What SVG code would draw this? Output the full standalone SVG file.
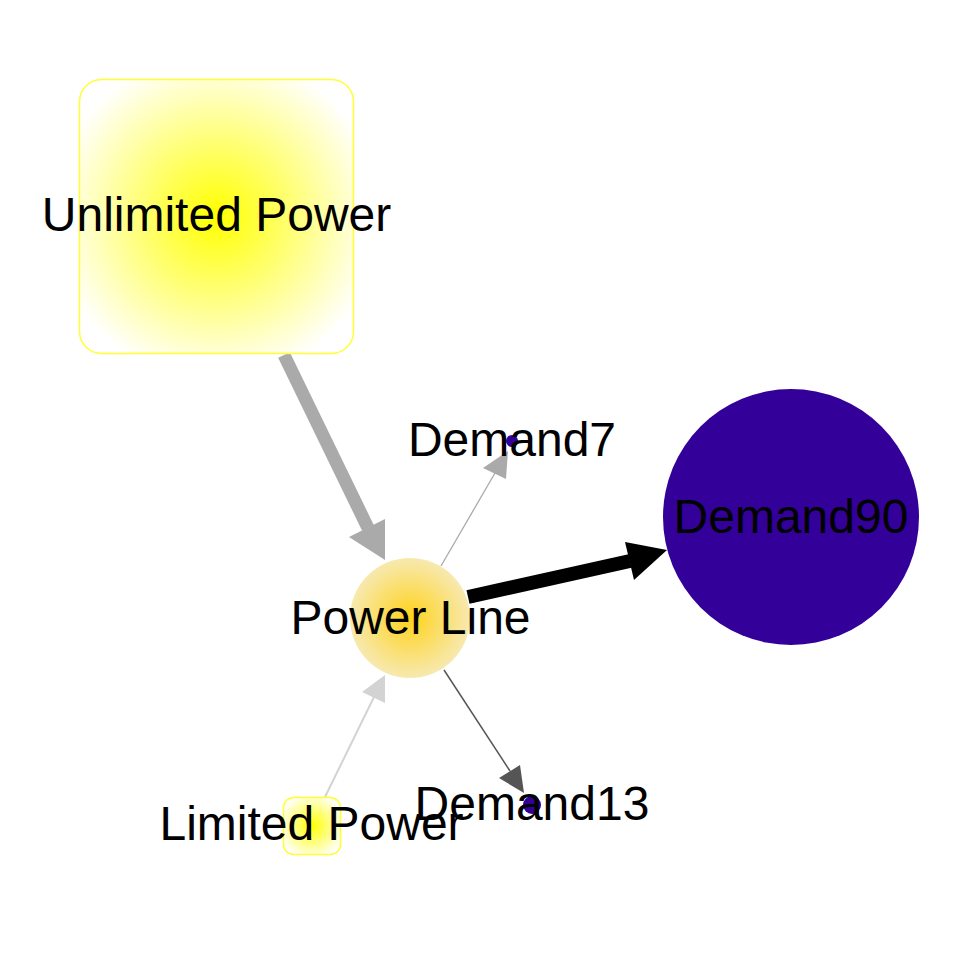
<svg xmlns="http://www.w3.org/2000/svg" width="960" height="966" viewBox="0 0 960 966">
<style>
.lbl{font-family:"Liberation Sans",Arial,sans-serif;font-size:48px;fill:#000;text-anchor:middle}
.src{stroke:#ffff33;stroke-width:1.5}
.dem{fill:#330099}
</style>
<defs>
<radialGradient id="gy" cx="0.5" cy="0.5" r="0.6">
<stop offset="0" stop-color="#ffff00"/>
<stop offset="1" stop-color="#ffffff"/>
</radialGradient>
<radialGradient id="gold" cx="0.5" cy="0.5" r="0.5">
<stop offset="0" stop-color="#ffd21a"/>
<stop offset="1" stop-color="#f7e9b0"/>
</radialGradient>
</defs>
<rect width="960" height="966" fill="#fff"/>
<g id="connectors">
<line x1="284" y1="355" x2="368" y2="528" stroke="#aaaaaa" stroke-width="13"/>
<polygon points="385,560 349,537 385,519" fill="#aaaaaa"/>
<line x1="441" y1="566" x2="495" y2="473" stroke="#aaaaaa" stroke-width="1.3"/>
<polygon points="508,451 483,468 506,479" fill="#aaaaaa"/>
<line x1="468" y1="597" x2="630" y2="561" stroke="#000" stroke-width="14"/>
<polygon points="667,550 625,542 634,580" fill="#000"/>
<line x1="444" y1="670" x2="510" y2="771" stroke="#555555" stroke-width="1.5"/>
<polygon points="524,793 499,778 520,765" fill="#555555"/>
<line x1="325" y1="797" x2="374" y2="697" stroke="#d3d3d3" stroke-width="2"/>
<polygon points="385,675 362,692 385,703" fill="#d3d3d3"/>
</g>
<g id="unlimited-power">
<rect class="src" x="79.5" y="79.5" width="274" height="274" rx="22" fill="url(#gy)"/>
</g>
<g id="power-line">
<circle cx="410" cy="618" r="60" fill="url(#gold)"/>
</g>
<g id="demand90">
<circle class="dem" cx="791" cy="517" r="128"/>
</g>
<g id="demand7">
<circle class="dem" cx="512" cy="441" r="6"/>
</g>
<g id="demand13">
<circle class="dem" cx="532" cy="805" r="9"/>
</g>
<g id="limited-power">
<rect class="src" x="283.5" y="797.5" width="57" height="57" rx="10" fill="url(#gy)"/>
</g>
<g id="labels">
<text class="lbl" x="216.5" y="231">Unlimited Power</text>
<text class="lbl" x="410.5" y="634">Power Line</text>
<text class="lbl" x="791" y="533">Demand90</text>
<text class="lbl" x="512" y="456">Demand7</text>
<text class="lbl" x="532" y="820">Demand13</text>
<text class="lbl" x="311.5" y="840">Limited Power</text>
</g>
</svg>
